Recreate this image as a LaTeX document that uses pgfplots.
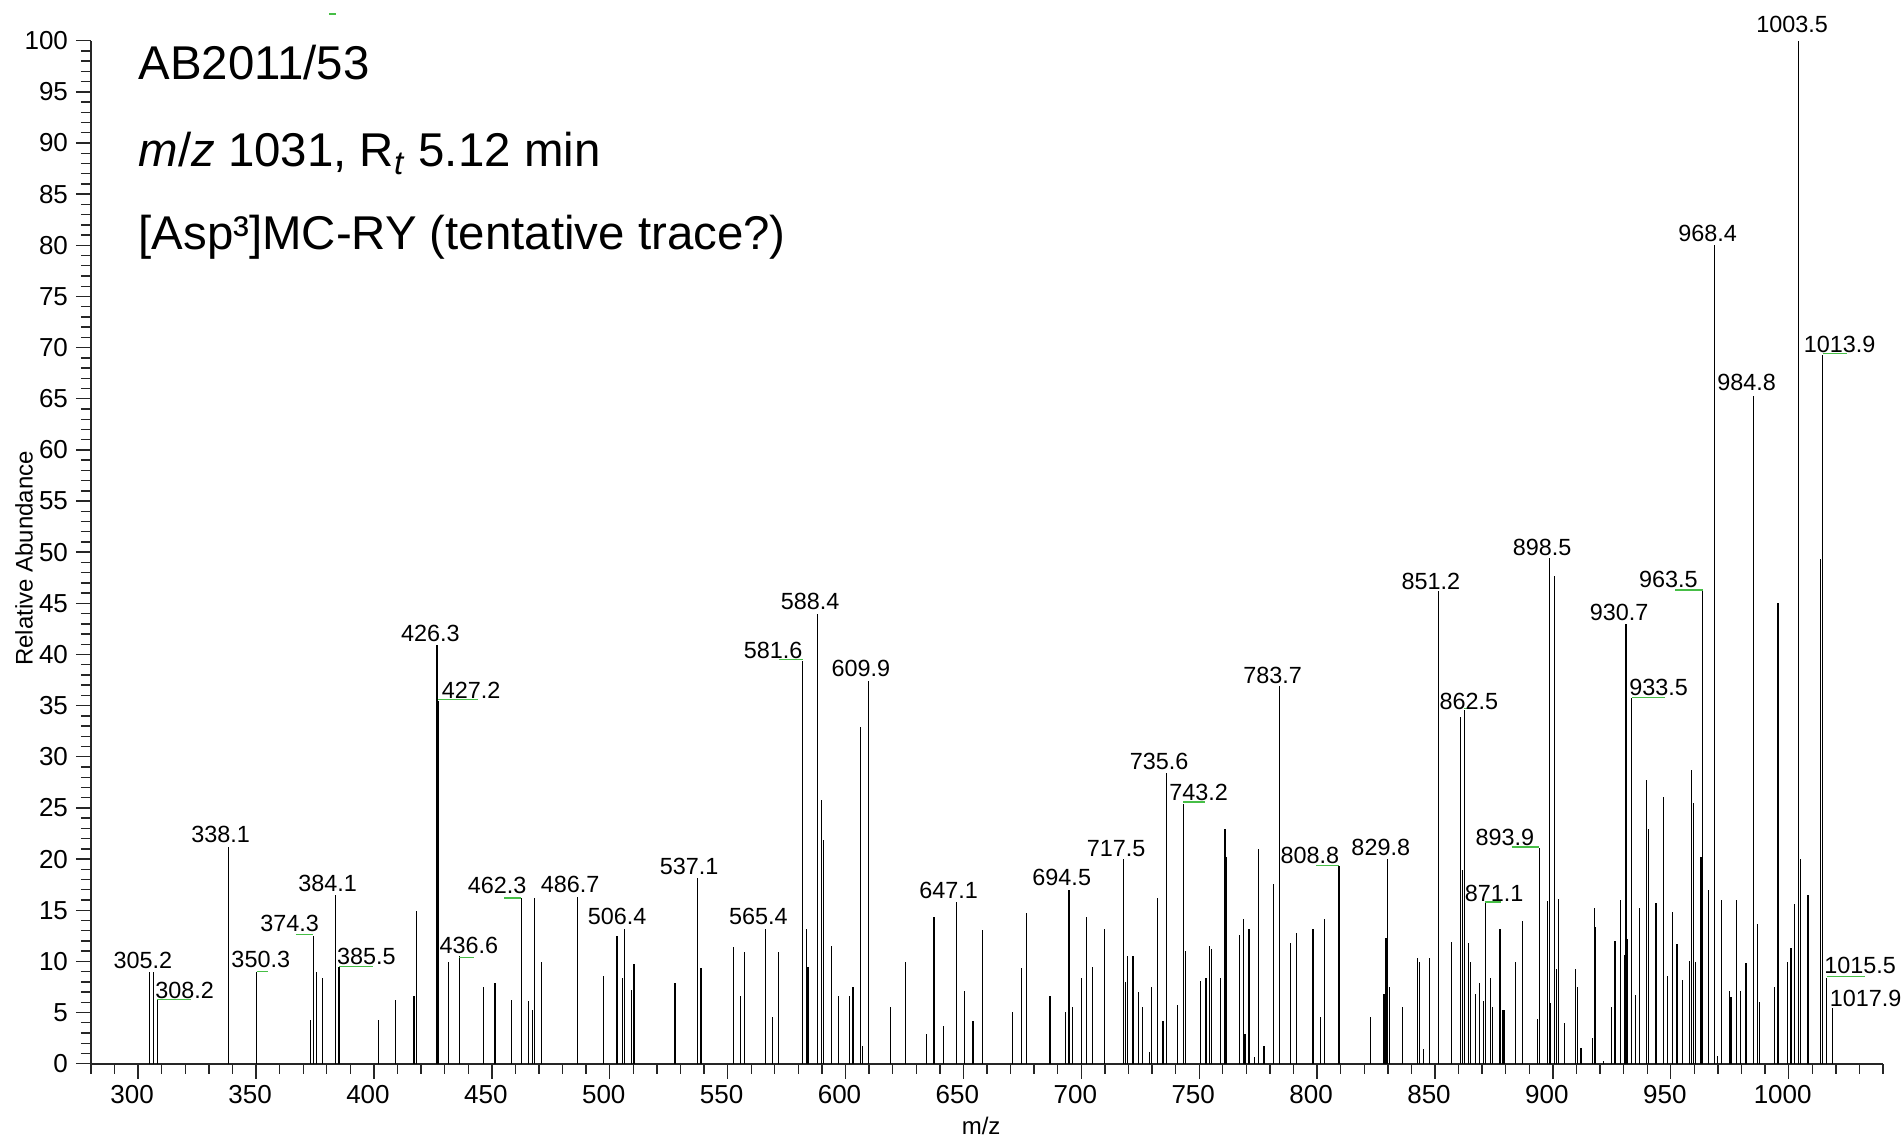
\documentclass[border=0pt]{standalone}
\usepackage{fontspec}
\setmainfont{Liberation Sans}
\usepackage{pgfplots}
\pgfplotsset{compat=1.18}
\definecolor{peakgreen}{RGB}{70,190,70}

\begin{document}
\begin{tikzpicture}
\useasboundingbox (0,0) rectangle (951.5pt,570pt);
\begin{axis}[
  at={(45.5pt,38.15pt)}, anchor=south west,
  scale only axis, width=896pt, height=511.5pt,
  xmin=280, xmax=1040, ymin=0, ymax=100,
  axis x line*=bottom, axis y line*=left,
  axis line style={line width=1pt, black!85},
  tick align=outside,
  major tick length=7.5pt, minor tick length=5pt,
  tick style={line width=0.7pt, black!85},
  xtick={300,350,...,1000}, minor xtick={280,290,...,1040},
  ytick={0,5,...,100}, minor ytick={0,1,...,100},
  /pgf/number format/assume math mode=true,
  /pgf/number format/set thousands separator={},
  every tick label/.append style={font=\fontsize{13}{15}\selectfont},
  xticklabel style={xshift=-3pt},
  yticklabel style={xshift=-0.5pt},
  xlabel={m/z}, ylabel={Relative Abundance},
  every axis x label/.style={at={(axis description cs:0.4967,-0.0606)}, anchor=center,
    font=\fontsize{12}{14}\selectfont},
  every axis y label/.style={at={(axis description cs:-0.0374,0.494)}, rotate=90, anchor=center,
    font=\fontsize{12}{14}\selectfont},
  clip=false,
]

% spectrum sticks
\addplot[ycomb, black, line width=0.6pt, mark=none] table {
x y
304.9 9.0
306.6 9.0
308.1 6.2
338.3 21.2
350.2 9.0
373.2 4.3
374.2 12.5
375.8 9.0
378.2 8.4
383.8 16.5
385.2 9.5
402.1 4.3
409.1 6.2
417.0 6.6
417.9 14.9
426.7 40.9
427.3 35.5
431.5 9.9
436.2 10.5
446.5 7.5
451.3 7.9
458.4 6.2
462.5 16.2
465.6 6.1
467.3 5.2
468.1 16.2
471.2 9.9
486.4 16.3
497.4 8.6
503.1 12.5
505.5 8.4
506.2 13.2
509.3 7.2
510.3 9.7
527.7 7.9
537.3 18.2
538.7 9.4
552.4 11.4
555.4 6.6
557.3 10.9
565.9 13.2
569.1 4.6
571.5 10.9
581.9 39.4
583.3 13.2
584.1 9.5
588.2 44.0
589.9 25.8
590.5 21.9
593.9 11.5
596.9 6.6
601.8 6.6
603.2 7.5
606.5 32.9
607.2 1.7
609.6 37.4
619.2 5.5
625.6 9.9
634.3 2.9
637.5 14.3
641.4 3.7
647.1 15.8
650.3 7.1
654.1 4.2
658.1 13.1
670.8 5.1
674.8 9.4
676.6 14.7
686.7 6.6
693.2 5.1
694.8 17.0
696.4 5.5
700.2 8.4
702.1 14.3
704.9 9.5
709.9 13.2
717.9 20.0
718.7 8.0
719.5 10.5
721.9 10.5
724.1 7.0
725.9 5.5
729.0 1.1
729.8 7.5
732.2 16.2
734.6 4.2
736.1 28.4
740.9 5.7
743.3 25.4
744.1 11.0
750.5 8.1
752.9 8.4
754.3 11.5
755.1 11.2
759.1 8.4
760.9 22.9
761.5 20.2
767.0 12.6
768.7 14.1
769.4 2.9
771.1 13.2
773.4 0.7
775.1 21.0
777.5 1.7
781.4 17.6
783.9 36.9
788.7 11.8
791.1 12.8
798.3 13.2
801.3 4.6
803.0 14.1
809.3 19.3
822.7 4.6
828.4 6.8
829.2 12.3
830.0 20.0
830.8 7.5
836.3 5.5
842.7 10.3
843.5 9.9
845.1 1.4
847.6 10.3
851.5 46.2
857.0 11.9
860.9 33.9
861.6 18.9
862.5 34.6
864.1 11.8
864.9 9.9
867.3 6.8
868.9 7.9
870.4 6.1
871.3 15.7
873.7 8.4
874.5 5.5
877.6 13.2
878.5 5.2
879.3 5.2
884.0 9.9
887.2 13.9
893.6 4.4
894.3 21.1
897.6 15.9
898.4 49.4
899.1 5.9
900.8 47.7
901.6 9.3
902.4 16.1
904.8 4.0
909.6 9.3
910.3 7.5
911.9 1.5
916.7 2.5
917.5 15.2
918.2 13.4
921.5 0.3
924.8 5.5
926.3 12.0
928.7 16.0
930.3 10.6
931.0 43.0
931.8 12.2
933.4 35.7
934.9 6.7
936.6 15.2
939.7 27.7
940.5 22.9
943.7 15.7
946.8 26.1
948.5 8.6
950.8 14.8
952.6 11.7
954.9 8.2
958.0 10.0
958.7 28.7
959.7 25.5
960.4 9.9
962.8 20.2
963.6 46.3
966.1 17.0
968.5 80.0
969.9 0.8
971.6 16.0
974.8 7.1
975.5 6.5
977.9 16.0
979.5 7.1
981.9 9.8
985.2 65.3
986.7 13.7
987.6 6.0
993.9 7.5
995.5 45.0
999.5 9.9
1001.0 11.3
1002.5 15.6
1004.1 100.0
1005.0 20.0
1008.2 16.5
1013.6 49.3
1014.4 69.3
1016.1 8.4
1018.5 5.4
};

% green label leader lines
\addplot[peakgreen, line width=0.7pt, mark=none, unbounded coords=jump] table {
x y
308.1 6.3
322.3 6.3
nan nan
350.2 9.0
355.2 9.0
nan nan
366.8 12.6
374.2 12.6
nan nan
385.2 9.5
399.8 9.5
nan nan
427.2 35.6
444.0 35.6
nan nan
436.1 10.4
442.5 10.4
nan nan
455.2 16.2
462.3 16.2
nan nan
571.9 39.5
581.9 39.5
nan nan
743.3 25.6
752.3 25.6
nan nan
799.7 19.4
809.3 19.4
nan nan
862.5 34.7
866.9 34.7
nan nan
871.1 15.8
878.2 15.8
nan nan
882.5 21.2
894.3 21.2
nan nan
933.4 35.8
947.5 35.8
nan nan
951.8 46.3
963.6 46.3
nan nan
1014.4 69.4
1024.6 69.4
nan nan
1016.1 8.5
1032.4 8.5
nan nan
381.0 102.6
384.0 102.6
};

% peak labels
\addplot[only marks, mark=none, nodes near coords, point meta=explicit symbolic,
  every node near coord/.append style={anchor=base, inner sep=0pt,
    font=\fontsize{11.7}{13}\selectfont}]
  table[meta=lab] {
x y lab
302.0 9.33 305.2
319.7 6.39 308.2
335.0 21.6 338.1
352.0 9.4 350.3
364.2 12.9 374.3
380.4 16.8 384.1
396.8 9.7 385.5
423.9 41.25 426.3
441.2 35.7 427.2
440.3 10.8 436.6
452.2 16.6 462.3
483.2 16.7 486.7
503.1 13.56 506.4
533.7 18.5 537.1
563.0 13.56 565.4
569.3 39.6 581.6
585.0 44.4 588.4
606.5 37.8 609.9
643.7 16.1 647.1
691.7 17.4 694.5
714.8 20.3 717.5
733.0 28.8 735.6
749.8 25.7 743.2
781.1 37.2 783.7
796.9 19.6 808.8
827.0 20.4 829.8
848.3 46.4 851.2
864.4 34.6 862.5
875.1 15.9 871.1
879.6 21.3 893.9
895.4 49.7 898.5
928.1 43.3 930.7
944.8 36.0 933.5
949.0 46.5 963.5
965.6 80.35 968.4
982.2 65.8 984.8
1001.5 100.8 1003.5
1021.6 69.5 1013.9
1030.3 8.77 1015.5
1032.6 5.57 1017.9
};

% header
\node[anchor=base west, inner sep=0pt, font=\fontsize{23.7}{28}\selectfont]
  at (axis cs:300,96.16) {AB2011/53};
\node[anchor=base west, inner sep=0pt, font=\fontsize{23.7}{28}\selectfont]
  at (axis cs:300,87.68) {\textit{m}/\textit{z} 1031, R\textsubscript{\textit{t}} 5.12 min};
\node[anchor=base west, inner sep=0pt, font=\fontsize{23.7}{28}\selectfont]
  at (axis cs:300,79.54) {[Asp³]MC-RY (tentative trace?)};

\end{axis}
\end{tikzpicture}
\end{document}
